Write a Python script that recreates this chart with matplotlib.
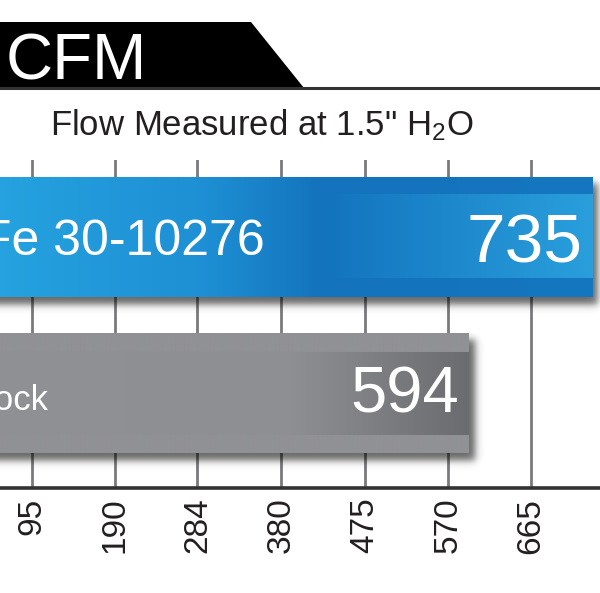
import numpy as np
import matplotlib.pyplot as plt
from matplotlib.patches import Polygon
from matplotlib.colors import to_rgb

plt.rcParams['font.family'] = ['Liberation Sans', 'DejaVu Sans']
plt.rcParams['mathtext.fontset'] = 'custom'
plt.rcParams['mathtext.rm'] = 'Liberation Sans'

# chart data
labels = ['aFe 30-10276', 'Stock']
values = [735, 594]
tick_values = [95, 190, 284, 380, 475, 570, 665]
unit = 'CFM'
subtitle = 'Flow Measured at 1.5" H$\\mathregular{_2}$O'

W, H = 600, 593
fig = plt.figure(figsize=(W / 100, H / 100), dpi=100)


def fy(py):
    # pixel row from top -> figure fraction
    return 1 - py / H


# black header tab with the unit
fig.patches.append(Polygon([(0, fy(22)), (251 / W, fy(22)), (304 / W, fy(88)), (0, fy(88))],
                           closed=True, transform=fig.transFigure,
                           facecolor='black', edgecolor='none'))
fig.add_artist(plt.Line2D([0, 1], [fy(88), fy(88)], transform=fig.transFigure,
                          color='#333333', lw=2.2))
fig.text(6 / W, fy(80), unit, color='white', fontsize=47, ha='left', va='baseline')
fig.text(262 / W, fy(135), subtitle, ha='center', va='baseline', fontsize=25, color='#231f20')

# plot area
ax = fig.add_axes([0, fy(488), 1, (488 - 160) / H])
xlim = (58.3, 744.0)
ylim = (1.609, -0.4936)
bar_h = 0.769
xs = W / (xlim[1] - xlim[0])            # px per data unit (x)
ys = (488 - 160) / (ylim[0] - ylim[1])  # px per data unit (y)


def ramp(stops, n):
    f = np.linspace(0, 1, n)
    pos = [s[0] for s in stops]
    cols = np.array([to_rgb(s[1]) for s in stops])
    return np.stack([np.interp(f, pos, cols[:, c]) for c in range(3)], axis=1)


styles = [
    dict(outer=[(0, '#2aa9e2'), (0.08, '#25a2df'), (0.40, '#1e8fd4'), (0.58, '#1373bc'), (1.0, '#1577c0')],
         inner=[(0, '#2aa9e2'), (0.08, '#25a2df'), (0.40, '#1e8fd4'), (0.58, '#1373bc'), (0.72, '#1a82c8'), (1.0, '#2a9fdc')],
         band=(0.142, 0.842)),
    dict(outer=[(0, '#909195'), (1.0, '#909195')],
         inner=[(0, '#909195'), (0.66, '#8e8f93'), (1.0, '#6b6c70')],
         band=(0.158, 0.85)),
]

bars = ax.barh(range(len(values)), values, height=bar_h, color='none', zorder=3)

for i, (bar, v, st) in enumerate(zip(bars, values, styles)):
    # soft drop shadow (right and bottom)
    lpx = v * xs
    hpx = bar_h * ys
    pad = 30
    gx = np.arange(0, lpx + pad)
    gy = np.arange(0, hpx + pad)
    X, Y = np.meshgrid(gx, gy)
    b = 4.5
    sig = lambda t: 0.5 * (1 + np.tanh(t))
    alpha = 0.6 * sig((lpx + 6 - X) / b) * sig((hpx + 7 - Y) / b) * sig((Y - 6) / b)
    sh = np.zeros(alpha.shape + (4,))
    sh[..., 3] = alpha
    ax.imshow(sh, extent=(0, v + pad / xs, i - bar_h / 2 + (hpx + pad) / ys, i - bar_h / 2),
              origin='upper', aspect='auto', zorder=2.5, interpolation='bilinear')

    # gradient fill clipped to the bar
    ncol, nrow = 600, 120
    outer = ramp(st['outer'], ncol)
    inner = ramp(st['inner'], ncol)
    rows = (np.arange(nrow) + 0.5) / nrow
    in_band = (rows > st['band'][0]) & (rows < st['band'][1])
    img = np.where(in_band[:, None, None], inner[None, :, :], outer[None, :, :])
    im = ax.imshow(img, extent=(0, v, i + bar_h / 2, i - bar_h / 2), origin='upper',
                   aspect='auto', zorder=3, interpolation='bilinear')
    im.set_clip_path(bar)

# labels inside bars
ax.annotate(labels[0], xy=(0.4417, 0), xycoords=('axes fraction', 'data'), xytext=(0, -13),
            textcoords='offset points', ha='right', va='baseline', color='white', fontsize=36, zorder=5)
ax.annotate(labels[1], xy=(0.08, 1), xycoords=('axes fraction', 'data'), xytext=(0, -12),
            textcoords='offset points', ha='right', va='baseline', color='white', fontsize=25, zorder=5)
ax.annotate(str(values[0]), xy=(values[0], 0), xytext=(-7.2, -18), textcoords='offset points',
            ha='right', va='baseline', color='white', fontsize=50, zorder=5)
ax.annotate(str(values[1]), xy=(values[1], 1), xytext=(-7.2, -13.7), textcoords='offset points',
            ha='right', va='baseline', color='white', fontsize=47, zorder=5)

ax.set_xlim(*xlim)
ax.set_ylim(*ylim)
ax.set_xticks(tick_values)
ax.set_xticklabels([str(t) for t in tick_values])
ax.set_yticks([])
ax.set_axisbelow(True)
ax.xaxis.grid(True, color='#7a7a7c', lw=2.0)
ax.tick_params(axis='x', length=0, pad=7, labelsize=24, labelrotation=90, labelcolor='#231f20')
for s in ['top', 'left', 'right']:
    ax.spines[s].set_visible(False)
ax.spines['bottom'].set_color('#333333')
ax.spines['bottom'].set_linewidth(2.6)
ax.patch.set_visible(False)

fig.savefig('out.png', dpi=100)
